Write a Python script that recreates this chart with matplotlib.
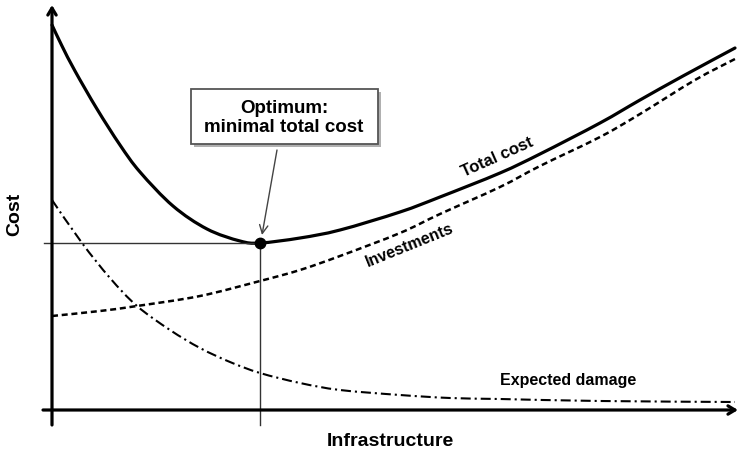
import numpy as np
import matplotlib
matplotlib.use("Agg")
import matplotlib.pyplot as plt
from matplotlib.patches import Rectangle, PathPatch
from matplotlib.path import Path

plt.rcParams["font.family"] = ["Liberation Sans", "DejaVu Sans"]
plt.rcParams["font.weight"] = "bold"

# curve values (x = infrastructure, y = cost, arbitrary units)
total_x = [0, 10, 23, 45, 68, 88, 121, 155, 188, 208, 248, 288, 348, 388, 448, 488, 548, 588, 631, 683]
total_y = [385, 364, 339, 301, 265, 238, 204, 181, 169, 167, 172, 180, 198, 213, 237, 256, 287, 310, 334, 362]

invest_x = [0, 48, 85, 148, 208, 248, 288, 348, 388, 448, 488, 548, 588, 643, 683]
invest_y = [94, 99, 104, 114, 129, 140, 154, 177, 196, 223, 244, 273, 296, 330, 351]

damage_x = [0, 30, 58, 85, 118, 148, 178, 208, 248, 288, 348, 398, 448, 548, 683]
damage_y = [210, 167, 132, 104, 80, 62, 48, 37, 27, 20, 15, 12, 11, 9, 8]

opt_x, opt_y = 208, 167


def smooth_path(xs, ys):
    # bezier path through the points (catmull-rom control points)
    p = np.column_stack([xs, ys]).astype(float)
    verts = [p[0]]
    codes = [Path.MOVETO]
    n = len(p)
    for i in range(n - 1):
        p0 = p[i - 1] if i > 0 else p[i]
        p1, p2 = p[i], p[i + 1]
        p3 = p[i + 2] if i + 2 < n else p[i + 1]
        verts += [p1 + (p2 - p0) / 6, p2 - (p3 - p1) / 6, p2]
        codes += [Path.CURVE4] * 3
    return Path(verts, codes)


fig = plt.figure(figsize=(7.38, 4.5), dpi=100)
ax = fig.add_axes([0, 0, 1, 1])
ax.set_xlim(-52, 686)
ax.set_ylim(-40, 410)
ax.axis("off")

# axes with arrows
ax.annotate("", xy=(0, 405), xytext=(0, -15),
            arrowprops=dict(arrowstyle="->,head_length=0.5,head_width=0.3", lw=2.3, color="black",
                            shrinkA=0, shrinkB=0))
ax.annotate("", xy=(686, 0), xytext=(-9, 0),
            arrowprops=dict(arrowstyle="->,head_length=0.5,head_width=0.3", lw=2.3, color="black",
                            shrinkA=0, shrinkB=0))

# guide lines to the optimum
ax.plot([-8, opt_x], [opt_y, opt_y], color="#333333", lw=1.0)
ax.plot([opt_x, opt_x], [opt_y, -15], color="#333333", lw=1.0)

# curves
ax.add_patch(PathPatch(smooth_path(total_x, total_y), fill=False, edgecolor="black", lw=2.3,
                       capstyle="round"))
ax.add_patch(PathPatch(smooth_path(invest_x, invest_y), fill=False, edgecolor="black", lw=1.8,
                       linestyle=(0, (2.4, 1.5))))
ax.add_patch(PathPatch(smooth_path(damage_x, damage_y), fill=False, edgecolor="black", lw=1.5,
                       linestyle=(0, (4.8, 1.9, 1.0, 1.9))))

ax.plot([opt_x], [opt_y], "o", color="black", markersize=7.5, zorder=5)

# callout box with shadow
ax.add_patch(Rectangle((142, 263), 187, 55, facecolor="#b0b0b0", edgecolor="none", zorder=3))
ax.add_patch(Rectangle((139, 266), 187, 55, facecolor="white", edgecolor="#555555", lw=1.3, zorder=4))
ax.text(232, 292, "Optimum:\nminimal total cost", ha="center", va="center",
        fontsize=13.5, fontweight="bold", linespacing=1.1, zorder=5)
ax.annotate("", xy=(210, 175), xytext=(225, 260),
            arrowprops=dict(arrowstyle="->,head_length=0.6,head_width=0.3", lw=1.0, color="#444444",
                            shrinkA=0, shrinkB=0))

# labels
ax.text(445, 253, "Total cost", rotation=24, ha="center", va="center", fontsize=12, fontweight="bold")
ax.text(358, 165, "Investments", rotation=22, ha="center", va="center", fontsize=11.5, fontweight="bold")
ax.text(516, 30, "Expected damage", ha="center", va="center", fontsize=11.5, fontweight="bold")
ax.text(-37, 196, "Cost", rotation=90, ha="center", va="center", fontsize=14, fontweight="bold")
ax.text(338, -31, "Infrastructure", ha="center", va="center", fontsize=14, fontweight="bold")

fig.savefig("out.png", dpi=100)
